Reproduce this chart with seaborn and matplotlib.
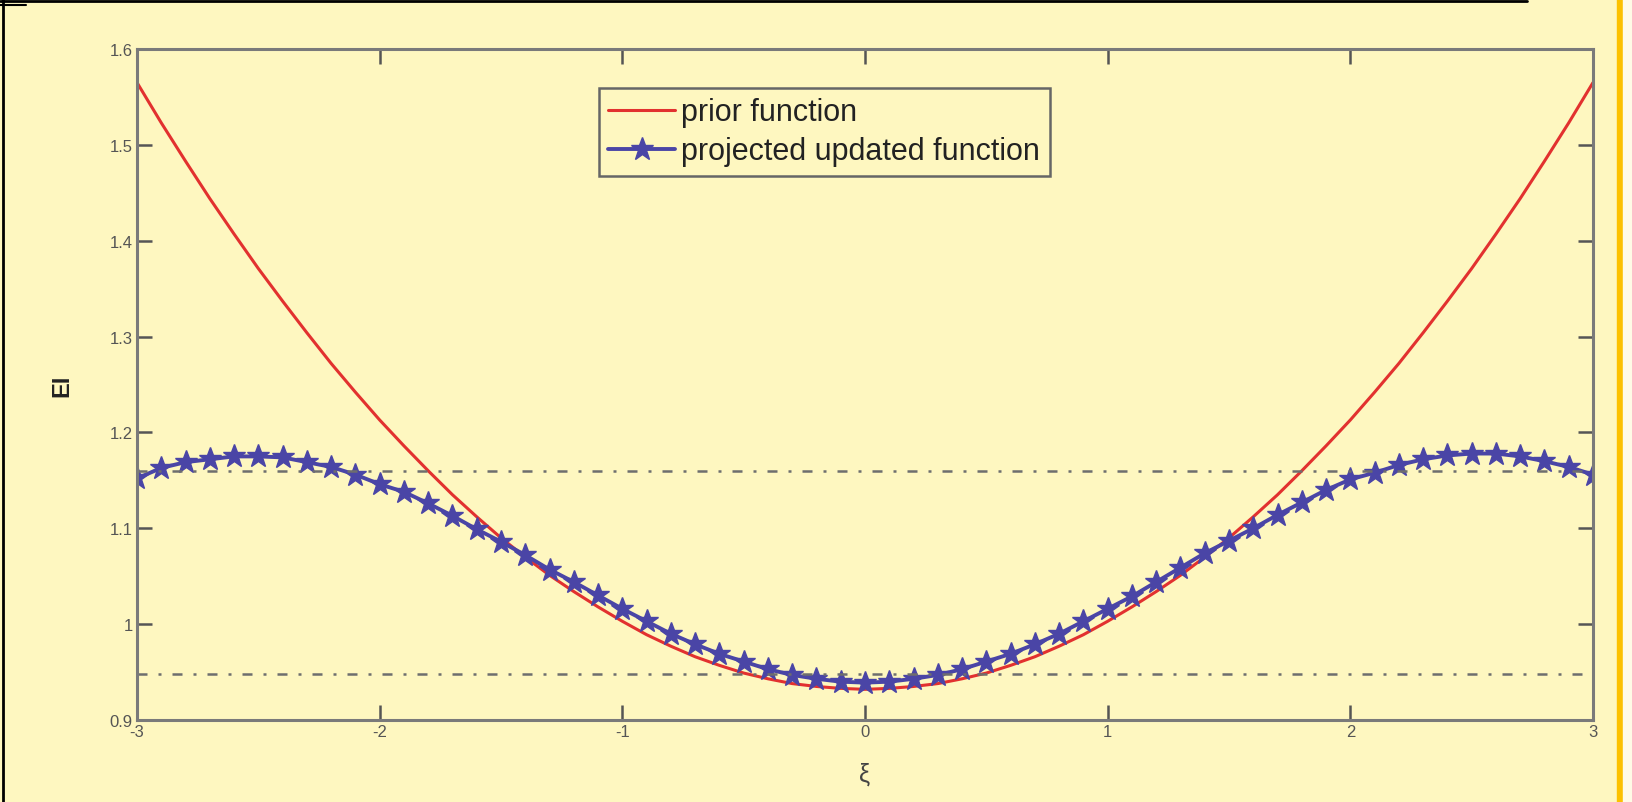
import numpy as np
import pandas as pd
import seaborn as sns
import matplotlib.pyplot as plt
from matplotlib.lines import Line2D
from matplotlib.patches import Rectangle

# ==== data ====
xi_prior = [-3.0, -2.9, -2.8, -2.7, -2.6, -2.5, -2.4, -2.3, -2.2, -2.1, -2.0, -1.9, -1.8, -1.7, -1.6, -1.5,
            -1.4, -1.3, -1.2, -1.1, -1.0, -0.9, -0.8, -0.7, -0.6, -0.5, -0.4, -0.3, -0.2, -0.1, 0.0,
            0.1, 0.2, 0.3, 0.4, 0.5, 0.6, 0.7, 0.8, 0.9, 1.0, 1.1, 1.2, 1.3, 1.4, 1.5,
            1.6, 1.7, 1.8, 1.9, 2.0, 2.1, 2.2, 2.3, 2.4, 2.5, 2.6, 2.7, 2.8, 2.9, 3.0]
ei_prior = [1.565, 1.523, 1.483, 1.444, 1.407, 1.371, 1.337, 1.304, 1.272, 1.242, 1.213, 1.186, 1.160, 1.135, 1.112, 1.090,
            1.070, 1.051, 1.034, 1.018, 1.003, 0.989, 0.977, 0.966, 0.957, 0.949, 0.943, 0.938, 0.935, 0.933, 0.932,
            0.933, 0.935, 0.938, 0.943, 0.949, 0.957, 0.966, 0.977, 0.989, 1.003, 1.018, 1.034, 1.051, 1.070, 1.090,
            1.112, 1.135, 1.160, 1.186, 1.213, 1.242, 1.272, 1.304, 1.337, 1.371, 1.407, 1.444, 1.483, 1.523, 1.565]

xi_proj = [-3.0, -2.9, -2.8, -2.7, -2.6, -2.5, -2.4, -2.3, -2.2, -2.1, -2.0, -1.9, -1.8, -1.7, -1.6, -1.5,
           -1.4, -1.3, -1.2, -1.1, -1.0, -0.9, -0.8, -0.7, -0.6, -0.5, -0.4, -0.3, -0.2, -0.1, 0.0,
           0.1, 0.2, 0.3, 0.4, 0.5, 0.6, 0.7, 0.8, 0.9, 1.0, 1.1, 1.2, 1.3, 1.4, 1.5,
           1.6, 1.7, 1.8, 1.9, 2.0, 2.1, 2.2, 2.3, 2.4, 2.5, 2.6, 2.7, 2.8, 2.9, 3.0]
ei_proj = [1.152, 1.163, 1.169, 1.172, 1.175, 1.175, 1.174, 1.169, 1.164, 1.156, 1.146, 1.138, 1.126, 1.113, 1.099, 1.086,
           1.072, 1.057, 1.044, 1.030, 1.016, 1.003, 0.990, 0.979, 0.969, 0.961, 0.953, 0.947, 0.943, 0.940, 0.939,
           0.940, 0.943, 0.947, 0.953, 0.961, 0.969, 0.979, 0.990, 1.003, 1.016, 1.029, 1.044, 1.059, 1.074, 1.087,
           1.100, 1.114, 1.127, 1.140, 1.151, 1.158, 1.166, 1.172, 1.176, 1.178, 1.178, 1.175, 1.170, 1.164, 1.156]

bounds = [0.948, 1.160]   # dash-dot reference levels
x_ticks = [-3, -2, -1, 0, 1, 2, 3]
y_ticks = [0.9, 1.0, 1.1, 1.2, 1.3, 1.4, 1.5, 1.6]
y_ticklabels = ["0.9", "1", "1.1", "1.2", "1.3", "1.4", "1.5", "1.6"]

df_prior = pd.DataFrame({"xi": xi_prior, "EI": ei_prior})
df_proj = pd.DataFrame({"xi": xi_proj, "EI": ei_proj})

# ==== style ====
bg = "#fef7c0"
grey = "#7a7a7a"
sns.set_style("ticks")
plt.rcParams["font.family"] = ["Liberation Sans", "DejaVu Sans"]

fig = plt.figure(figsize=(16.33, 8.03), dpi=100, facecolor=bg)
ax = fig.add_axes([0.0839, 0.1021, 0.8916, 0.8356])
ax.set_facecolor(bg)

sns.lineplot(data=df_prior, x="xi", y="EI", ax=ax, color="#e2312f", linewidth=2.2,
             label="prior function")
sns.lineplot(data=df_proj, x="xi", y="EI", ax=ax, color="#4a45a6", linewidth=2.8,
             marker="*", markersize=17, markeredgewidth=1.0, markeredgecolor="#4a45a6",
             label="projected updated function")
for b in bounds:
    ax.axhline(b, color="#6e6e6e", linewidth=1.8, linestyle=(0, (4, 4.4, 1.2, 4.4)))

ax.set_xlim(-3, 3)
ax.set_ylim(0.9, 1.6)
ax.set_xticks(x_ticks)
ax.set_xticklabels([str(t) for t in x_ticks])
ax.set_yticks(y_ticks)
ax.set_yticklabels(y_ticklabels)
ax.tick_params(direction="in", length=11, width=1.8, color="#555555", labelcolor="#555555",
               labelsize=12, top=True, right=True, pad=3)
for s in ax.spines.values():
    s.set_color(grey)
    s.set_linewidth(2.2)

ax.set_xlabel("ξ", fontsize=18, color="#444444", labelpad=16)
ax.set_ylabel("EI", fontsize=17, fontweight="bold", color="#222222", labelpad=26)

leg = ax.legend(loc="upper left", bbox_to_anchor=(0.3668, 0.889), bbox_transform=fig.transFigure,
                fontsize=22, frameon=True, fancybox=False, edgecolor="#666666",
                handlelength=2.2, handletextpad=0.2, labelspacing=0.3, borderpad=0.3,
                borderaxespad=0)
leg.get_frame().set_facecolor(bg)
leg.get_frame().set_linewidth(1.8)
leg.get_frame().set_alpha(1)
for t in leg.get_texts():
    t.set_color("#222222")

# page decorations around the figure
fig.add_artist(Line2D([0, 0.935], [0.998, 0.998], transform=fig.transFigure, color="black", linewidth=2))
fig.add_artist(Line2D([0.002, 0.002], [0, 1], transform=fig.transFigure, color="black", linewidth=2))
fig.add_artist(Line2D([0, 0.016], [0.993, 0.993], transform=fig.transFigure, color="black", linewidth=1.5))
fig.add_artist(Rectangle((0.990, 0), 0.004, 1, transform=fig.transFigure, color="#fcc100", zorder=5))
fig.add_artist(Rectangle((0.994, 0), 0.006, 1, transform=fig.transFigure, color="#fffbe6", zorder=5))

fig.savefig("out.png", dpi=100, facecolor=bg)
